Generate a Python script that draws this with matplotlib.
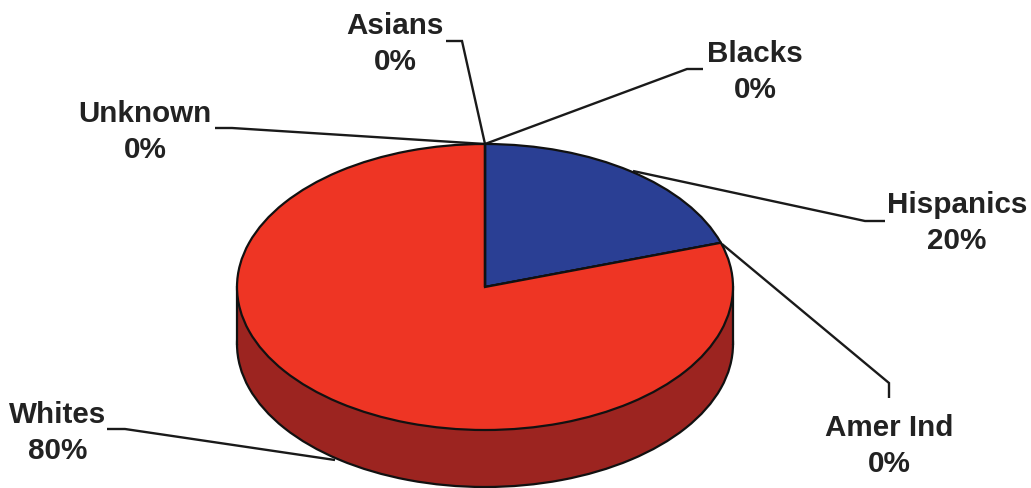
import matplotlib
matplotlib.use("Agg")
import matplotlib.pyplot as plt

groups = ["Blacks", "Hispanics", "Amer Ind", "Whites", "Unknown", "Asians"]
shares = [0, 20, 0, 80, 0, 0]

RED = "#ee3524"
BLUE = "#2a3f94"
DARK_RED = "#9c2420"
INK = "#222222"
slice_colors = [BLUE, BLUE, RED, RED, RED, RED]
wall_colors = [DARK_RED] * len(shares)

W, H = 1031, 489
CX, CY = 485, 288      # pie centre, pixels from top left
RX, RY = 248, 143      # top face radii
DEPTH = 57             # height of the side wall
SQUASH = RY / RX


def to_y(py):
    # pie is drawn as a circle, the y limits squash it into an ellipse
    return (H - py) / SQUASH


fig = plt.figure(figsize=(W / 100, H / 100), dpi=100)
ax = fig.add_axes([0, 0, 1, 1])
plt.rcParams["font.family"] = ["Liberation Sans", "DejaVu Sans"]

# side wall: bottom face, band joining it to the top face, then the top face
edge = {"edgecolor": "#111111", "linewidth": 1.6}
ax.pie(shares, colors=wall_colors, center=(CX, to_y(CY + DEPTH)), radius=RX,
       startangle=90, counterclock=False, frame=True,
       wedgeprops={**edge, "zorder": 3})
ax.fill_between([CX - RX, CX + RX], to_y(CY), to_y(CY + DEPTH),
                color=DARK_RED, linewidth=0, zorder=4)
for x in (CX - RX, CX + RX):
    ax.plot([x, x], [to_y(CY), to_y(CY + DEPTH)], color="#111111", lw=1.6,
            zorder=5)
ax.pie(shares, colors=slice_colors, center=(CX, to_y(CY)), radius=RX,
       startangle=90, counterclock=False, frame=True,
       wedgeprops={**edge, "zorder": 6})

# leader lines, pixels from top left
leaders = [
    [(703, 70), (687, 70), (485, 145)],
    [(885, 222), (865, 222), (633, 172)],
    [(889, 399), (889, 384), (722, 245)],
    [(107, 430), (125, 430), (335, 461)],
    [(215, 129), (232, 129), (485, 145)],
    [(446, 42), (462, 42), (485, 145)],
]
for pts in leaders:
    px, py = zip(*pts)
    ax.plot(px, [to_y(p) for p in py], color="#1a1a1a", lw=1.7, zorder=2,
            solid_joinstyle="miter", solid_capstyle="butt")

label_pos = [(755, 72), (957, 223), (889, 446), (58, 433), (145, 132), (395, 44)]
for name, share, (lx, ly) in zip(groups, shares, label_pos):
    ax.text(lx, to_y(ly), f"{name}\n{share}%", ha="center", va="center",
            fontsize=21.3, fontweight="bold", color=INK, linespacing=1.38,
            zorder=8)

ax.set_aspect("auto")
ax.set_xlim(0, W)
ax.set_ylim(to_y(H), to_y(0))
ax.axis("off")

fig.savefig("out.png", dpi=100, facecolor="white")
